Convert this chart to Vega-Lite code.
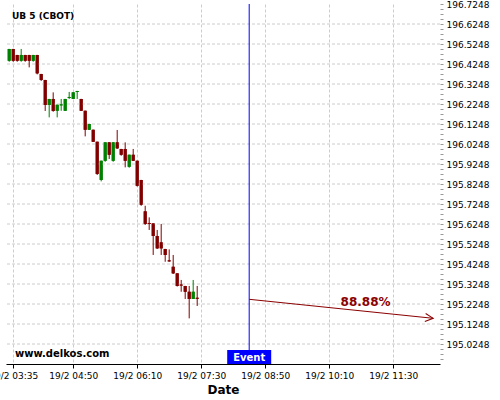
{
  "$schema": "https://vega.github.io/schema/vega-lite/v6.json",
  "width": 434,
  "height": 360,
  "autosize": {"type": "none"},
  "padding": {"left": 6, "top": 4, "right": 60, "bottom": 36},
  "background": "white",
  "config": {"view": {"stroke": null}, "font": "DejaVu Sans", "scale": {"continuousPadding": 0}},
  "datasets": {
    "candles": [
      {"t": "2024-02-19T03:30:00", "o": 196.441, "h": 196.500, "l": 196.436, "c": 196.500},
      {"t": "2024-02-19T03:35:00", "o": 196.500, "h": 196.500, "l": 196.436, "c": 196.441},
      {"t": "2024-02-19T03:40:00", "o": 196.470, "h": 196.470, "l": 196.436, "c": 196.441},
      {"t": "2024-02-19T03:45:00", "o": 196.441, "h": 196.500, "l": 196.436, "c": 196.470},
      {"t": "2024-02-19T03:50:00", "o": 196.470, "h": 196.470, "l": 196.436, "c": 196.441},
      {"t": "2024-02-19T03:55:00", "o": 196.470, "h": 196.470, "l": 196.408, "c": 196.441},
      {"t": "2024-02-19T04:00:00", "o": 196.441, "h": 196.470, "l": 196.436, "c": 196.470},
      {"t": "2024-02-19T04:05:00", "o": 196.470, "h": 196.470, "l": 196.373, "c": 196.378},
      {"t": "2024-02-19T04:10:00", "o": 196.375, "h": 196.375, "l": 196.340, "c": 196.345},
      {"t": "2024-02-19T04:15:00", "o": 196.345, "h": 196.345, "l": 196.190, "c": 196.220},
      {"t": "2024-02-19T04:20:00", "o": 196.220, "h": 196.250, "l": 196.158, "c": 196.250},
      {"t": "2024-02-19T04:25:00", "o": 196.250, "h": 196.283, "l": 196.186, "c": 196.190},
      {"t": "2024-02-19T04:30:00", "o": 196.191, "h": 196.221, "l": 196.158, "c": 196.221},
      {"t": "2024-02-19T04:35:00", "o": 196.218, "h": 196.250, "l": 196.191, "c": 196.223},
      {"t": "2024-02-19T04:40:00", "o": 196.191, "h": 196.250, "l": 196.191, "c": 196.250},
      {"t": "2024-02-19T04:45:00", "o": 196.255, "h": 196.285, "l": 196.250, "c": 196.260},
      {"t": "2024-02-19T04:50:00", "o": 196.250, "h": 196.283, "l": 196.250, "c": 196.283},
      {"t": "2024-02-19T04:55:00", "o": 196.285, "h": 196.290, "l": 196.250, "c": 196.290},
      {"t": "2024-02-19T05:00:00", "o": 196.250, "h": 196.250, "l": 196.191, "c": 196.191},
      {"t": "2024-02-19T05:05:00", "o": 196.191, "h": 196.191, "l": 196.063, "c": 196.096},
      {"t": "2024-02-19T05:10:00", "o": 196.096, "h": 196.125, "l": 196.096, "c": 196.125},
      {"t": "2024-02-19T05:15:00", "o": 196.096, "h": 196.096, "l": 196.036, "c": 196.036},
      {"t": "2024-02-19T05:20:00", "o": 196.036, "h": 196.036, "l": 195.870, "c": 195.875},
      {"t": "2024-02-19T05:25:00", "o": 195.845, "h": 195.941, "l": 195.838, "c": 195.941},
      {"t": "2024-02-19T05:30:00", "o": 195.941, "h": 196.033, "l": 195.936, "c": 196.033},
      {"t": "2024-02-19T05:35:00", "o": 196.033, "h": 196.033, "l": 195.950, "c": 195.971},
      {"t": "2024-02-19T05:40:00", "o": 195.941, "h": 196.033, "l": 195.936, "c": 196.033},
      {"t": "2024-02-19T05:45:00", "o": 196.033, "h": 196.095, "l": 196.000, "c": 196.003},
      {"t": "2024-02-19T05:50:00", "o": 196.000, "h": 196.000, "l": 195.966, "c": 195.971},
      {"t": "2024-02-19T05:55:00", "o": 196.000, "h": 196.033, "l": 195.908, "c": 195.941},
      {"t": "2024-02-19T06:00:00", "o": 195.911, "h": 195.971, "l": 195.906, "c": 195.971},
      {"t": "2024-02-19T06:05:00", "o": 195.971, "h": 196.000, "l": 195.941, "c": 195.941},
      {"t": "2024-02-19T06:10:00", "o": 195.941, "h": 195.941, "l": 195.812, "c": 195.816},
      {"t": "2024-02-19T06:15:00", "o": 195.845, "h": 195.845, "l": 195.716, "c": 195.721},
      {"t": "2024-02-19T06:20:00", "o": 195.688, "h": 195.716, "l": 195.620, "c": 195.625},
      {"t": "2024-02-19T06:25:00", "o": 195.630, "h": 195.658, "l": 195.595, "c": 195.625},
      {"t": "2024-02-19T06:30:00", "o": 195.628, "h": 195.628, "l": 195.470, "c": 195.565},
      {"t": "2024-02-19T06:35:00", "o": 195.565, "h": 195.595, "l": 195.500, "c": 195.503},
      {"t": "2024-02-19T06:40:00", "o": 195.533, "h": 195.625, "l": 195.470, "c": 195.503},
      {"t": "2024-02-19T06:45:00", "o": 195.500, "h": 195.500, "l": 195.436, "c": 195.470},
      {"t": "2024-02-19T06:50:00", "o": 195.443, "h": 195.498, "l": 195.436, "c": 195.438},
      {"t": "2024-02-19T06:55:00", "o": 195.411, "h": 195.470, "l": 195.375, "c": 195.378},
      {"t": "2024-02-19T07:00:00", "o": 195.378, "h": 195.378, "l": 195.312, "c": 195.315},
      {"t": "2024-02-19T07:05:00", "o": 195.322, "h": 195.345, "l": 195.286, "c": 195.317},
      {"t": "2024-02-19T07:10:00", "o": 195.315, "h": 195.315, "l": 195.250, "c": 195.286},
      {"t": "2024-02-19T07:15:00", "o": 195.286, "h": 195.315, "l": 195.153, "c": 195.250},
      {"t": "2024-02-19T07:20:00", "o": 195.250, "h": 195.345, "l": 195.250, "c": 195.286},
      {"t": "2024-02-19T07:25:00", "o": 195.256, "h": 195.315, "l": 195.215, "c": 195.251}
    ],
    "hgrid": [
      {"g": 195.0248}, {"g": 195.1248}, {"g": 195.2248}, {"g": 195.3248}, {"g": 195.4248}, {"g": 195.5248},
      {"g": 195.6248}, {"g": 195.7248}, {"g": 195.8248}, {"g": 195.9248}, {"g": 196.0248}, {"g": 196.1248},
      {"g": 196.2248}, {"g": 196.3248}, {"g": 196.4248}, {"g": 196.5248}, {"g": 196.6248}
    ],
    "event": [{"t": "2024-02-19T08:30:00", "y0": 194.9248, "y1": 194.9948, "ty": 194.941, "label": "Event"}],
    "arrow": [
      {"t": "2024-02-19T08:30:00", "v": 195.2483},
      {"t": "2024-02-19T12:20:00", "v": 195.1533}
    ],
    "arrowhead": [{"t": "2024-02-19T12:20:00", "v": 195.1533}],
    "pct": [{"t": "2024-02-19T10:55:30", "v": 195.2148, "label": "88.88%"}],
    "mark": [{"t": "2024-02-19T03:37:15", "v": 194.9583, "label": "www.delkos.com"}],
    "ttl": [{"t": "2024-02-19T03:33:30", "v": 196.6483, "label": "UB 5 (CBOT)"}]
  },
  "layer": [
    {
      "data": {"name": "candles"},
      "mark": {"type": "bar", "width": 3},
      "encoding": {
        "x": {"field": "t", "type": "temporal", "scale": {"domain": [{"year": 2024, "month": 2, "date": 19, "hours": 3, "minutes": 26}, {"year": 2024, "month": 2, "date": 19, "hours": 12, "minutes": 28, "seconds": 30}], "nice": false, "padding": 0},
          "axis": {"title": "Date", "titleFontSize": 12, "titleFontWeight": "bold", "titleColor": "black", "titlePadding": 4, "tickCount": 100,
            "values": [
              {"year": 2024, "month": 2, "date": 19, "hours": 3, "minutes": 35},
              {"year": 2024, "month": 2, "date": 19, "hours": 4, "minutes": 50},
              {"year": 2024, "month": 2, "date": 19, "hours": 6, "minutes": 10},
              {"year": 2024, "month": 2, "date": 19, "hours": 7, "minutes": 30},
              {"year": 2024, "month": 2, "date": 19, "hours": 8, "minutes": 50},
              {"year": 2024, "month": 2, "date": 19, "hours": 10, "minutes": 10},
              {"year": 2024, "month": 2, "date": 19, "hours": 11, "minutes": 30}
            ],
            "format": "%-d/%-m %H:%M", "labelFontSize": 9, "labelColor": "black", "labelPadding": 3, "labelOverlap": false, "labelFlush": false, "labelBound": false,
            "tickColor": "black", "tickSize": 4, "domainColor": "black", "domainWidth": 1,
            "grid": true, "gridColor": "#cccccc", "gridDash": [3, 2], "gridWidth": 1}},
        "y": {"field": "o", "type": "quantitative", "scale": {"domain": [194.9248, 196.7248], "nice": false, "zero": false, "padding": 0},
          "axis": {"orient": "right", "title": null, "domain": false, "grid": false, "format": ".4f", "tickCount": 200,
            "values": [194.9498, 194.9748, 194.9998, 195.0248, 195.0498, 195.0748, 195.0998, 195.1248, 195.1498, 195.1748, 195.1998, 195.2248, 195.2498, 195.2748, 195.2998, 195.3248, 195.3498, 195.3748, 195.3998, 195.4248, 195.4498, 195.4748, 195.4998, 195.5248, 195.5498, 195.5748, 195.5998, 195.6248, 195.6498, 195.6748, 195.6998, 195.7248, 195.7498, 195.7748, 195.7998, 195.8248, 195.8498, 195.8748, 195.8998, 195.9248, 195.9498, 195.9748, 195.9998, 196.0248, 196.0498, 196.0748, 196.0998, 196.1248, 196.1498, 196.1748, 196.1998, 196.2248, 196.2498, 196.2748, 196.2998, 196.3248, 196.3498, 196.3748, 196.3998, 196.4248, 196.4498, 196.4748, 196.4998, 196.5248, 196.5498, 196.5748, 196.5998, 196.6248, 196.6498, 196.6748, 196.6998, 196.7248],
            "labelExpr": "abs((datum.value - 194.9248) * 10 - round((datum.value - 194.9248) * 10)) < 0.05 ? datum.label : ''",
            "labelFontSize": 9, "labelColor": "black", "labelPadding": 3, "labelOverlap": false, "labelBound": false,
            "tickColor": "#999999", "tickSize": 3}},
        "y2": {"field": "c"},
        "color": {"condition": {"test": "datum.c >= datum.o", "value": "#008000"}, "value": "#800000"}
      }
    },
    {
      "data": {"name": "hgrid"},
      "mark": {"type": "rule", "color": "#cccccc", "strokeWidth": 1, "strokeDash": [3, 2], "zindex": -1},
      "encoding": {
        "y": {"field": "g", "type": "quantitative", "axis": {"orient": "right"}}
      }
    },
    {
      "data": {"name": "candles"},
      "mark": {"type": "rule", "strokeWidth": 1},
      "encoding": {
        "x": {"field": "t", "type": "temporal"},
        "y": {"field": "l", "type": "quantitative", "axis": {"orient": "right"}},
        "y2": {"field": "h"},
        "color": {"condition": {"test": "datum.c >= datum.o", "value": "#008000"}, "value": "#800000"}
      }
    },
    {
      "data": {"name": "candles"},
      "mark": {"type": "bar", "width": 3},
      "encoding": {
        "x": {"field": "t", "type": "temporal"},
        "y": {"field": "o", "type": "quantitative", "axis": {"orient": "right"}},
        "y2": {"field": "c"},
        "color": {"condition": {"test": "datum.c >= datum.o", "value": "#008000"}, "value": "#800000"}
      }
    },
    {
      "data": {"name": "event"},
      "mark": {"type": "rule", "color": "#0000ff", "strokeWidth": 1},
      "encoding": {
        "x": {"field": "t", "type": "temporal"}
      }
    },
    {
      "data": {"name": "arrow"},
      "mark": {"type": "line", "color": "#8b0000", "strokeWidth": 1},
      "encoding": {
        "x": {"field": "t", "type": "temporal"},
        "y": {"field": "v", "type": "quantitative", "axis": {"orient": "right"}}
      }
    },
    {
      "data": {"name": "arrowhead"},
      "mark": {"type": "point", "shape": "M-1,-0.5L0,0L-1,0.5", "size": 256, "angle": 5.9, "filled": false, "stroke": "#8b0000", "strokeWidth": 1, "opacity": 1},
      "encoding": {
        "x": {"field": "t", "type": "temporal"},
        "y": {"field": "v", "type": "quantitative", "axis": {"orient": "right"}}
      }
    },
    {
      "data": {"name": "pct"},
      "mark": {"type": "text", "color": "#8b0000", "fontSize": 12, "fontWeight": "bold", "align": "center", "baseline": "alphabetic", "font": "DejaVu Sans"},
      "encoding": {
        "x": {"field": "t", "type": "temporal"},
        "y": {"field": "v", "type": "quantitative", "axis": {"orient": "right"}},
        "text": {"field": "label"}
      }
    },
    {
      "data": {"name": "event"},
      "mark": {"type": "bar", "width": 44, "color": "#0000ff"},
      "encoding": {
        "x": {"field": "t", "type": "temporal"},
        "y": {"field": "y0", "type": "quantitative", "axis": {"orient": "right"}},
        "y2": {"field": "y1"}
      }
    },
    {
      "data": {"name": "event"},
      "mark": {"type": "text", "color": "white", "fontSize": 10, "fontWeight": "bold", "align": "center", "baseline": "alphabetic", "font": "DejaVu Sans"},
      "encoding": {
        "x": {"field": "t", "type": "temporal"},
        "y": {"field": "ty", "type": "quantitative", "axis": {"orient": "right"}},
        "text": {"field": "label"}
      }
    },
    {
      "data": {"name": "mark"},
      "mark": {"type": "text", "color": "black", "fontSize": 10, "fontWeight": "bold", "align": "left", "baseline": "alphabetic", "font": "DejaVu Sans"},
      "encoding": {
        "x": {"field": "t", "type": "temporal"},
        "y": {"field": "v", "type": "quantitative", "axis": {"orient": "right"}},
        "text": {"field": "label"}
      }
    },
    {
      "data": {"name": "ttl"},
      "mark": {"type": "text", "color": "black", "fontSize": 9, "fontWeight": "bold", "align": "left", "baseline": "alphabetic", "font": "DejaVu Sans"},
      "encoding": {
        "x": {"field": "t", "type": "temporal"},
        "y": {"field": "v", "type": "quantitative", "axis": {"orient": "right"}},
        "text": {"field": "label"}
      }
    }
  ]
}
